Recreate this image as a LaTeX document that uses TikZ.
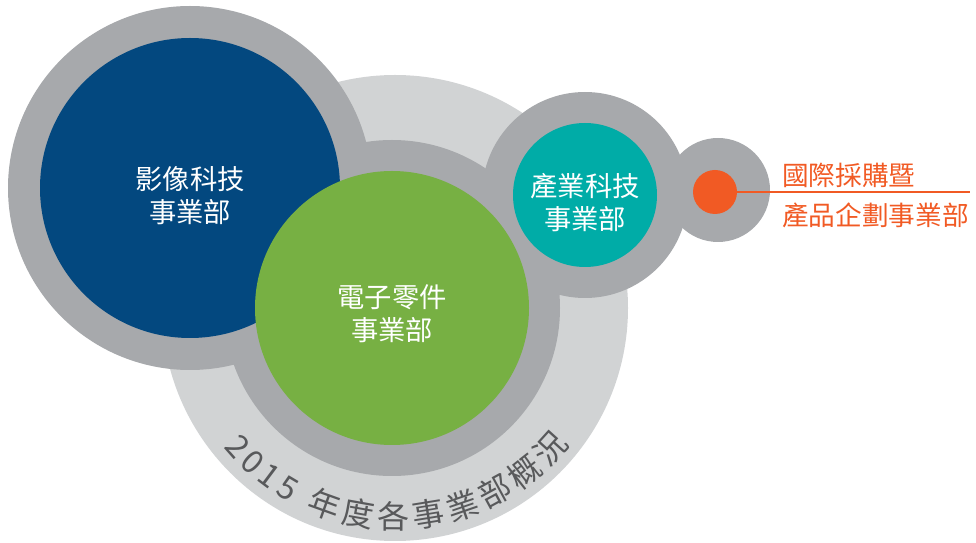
\documentclass[tikz,border=0pt]{standalone}
\usepackage{fontspec}
\setmainfont{Noto Sans CJK TC}
\usetikzlibrary{decorations.text}

\definecolor{bggray}{HTML}{D1D3D4}
\definecolor{ringgray}{HTML}{A7A9AC}
\definecolor{imgblue}{HTML}{03487F}
\definecolor{elecgreen}{HTML}{77B043}
\definecolor{indteal}{HTML}{00ACA7}
\definecolor{procorange}{HTML}{F15A24}
\definecolor{txtgray}{HTML}{58595B}

\begin{document}
\begin{tikzpicture}[x=0.75pt,y=0.75pt,
    disc/.style={circle,inner sep=0pt,draw=none},
    ring/.style={disc,fill=ringgray},
    unit/.style={disc,text=white,align=center,font=\fontsize{20.5}{24.5}\selectfont},
    side/.style={anchor=west,inner sep=0pt,text=procorange,font=\fontsize{20}{24}\selectfont}]
  \useasboundingbox (0,0) rectangle (976,543);

  % background and grey rings
  \node[disc,fill=bggray,minimum size=349.5pt] (back)  at (395,235) {};
  \node[ring,minimum size=273pt]               (ring1) at (190,355) {};
  \node[ring,minimum size=252pt]               (ring2) at (392,235) {};
  \node[ring,minimum size=154.5pt]             (ring3) at (585,348) {};
  \node[ring,minimum size=78pt]                (ring4) at (718,353) {};

  % business units
  \node[unit,fill=imgblue,minimum size=225pt]     (img)  at (190,355) {};
  \node[unit,fill=elecgreen,minimum size=205.5pt] (elec) at (392,235) {};
  \node[unit,fill=indteal,minimum size=108pt]     (ind)  at (585,348) {};
  \node[disc,fill=procorange,minimum size=33pt]   (proc) at (715,351) {};

  \node[unit] (imgtxt)  at ([yshift=-5.5pt]img.center)  {影像科技\\事業部};
  \node[unit] (electxt) at ([yshift=-4.5pt]elec.center) {電子零件\\事業部};
  \node[unit] (indtxt)  at ([yshift=-5.5pt]ind.center)  {產業科技\\事業部};

  \coordinate (lineend) at (970,351);
  \draw[procorange,line width=1.1pt] (proc) -- (lineend);
  \node[side] (proc1) at (782,368) {國際採購暨};
  \node[side] (proc2) at (782,328) {產品企劃事業部};

  % title along the arc
  \path[decorate,decoration={text along path,text align={fit to path},
      text={|\fontsize{24}{24}\selectfont\color{txtgray}|2015 年度各事業部概況}}]
    (back.center) ++(219:165.75pt) arc[start angle=219,end angle=322,radius=165.75pt];
\end{tikzpicture}
\end{document}
